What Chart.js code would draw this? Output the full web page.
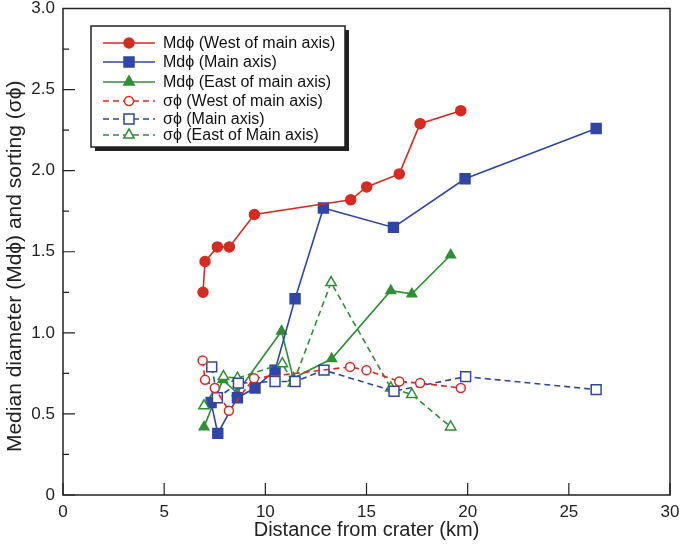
<!DOCTYPE html>
<html>
<head>
<meta charset="utf-8">
<script src="https://cdn.jsdelivr.net/npm/chart.js@4.4.1/dist/chart.umd.min.js"></script>
<style>
html, body { margin: 0; padding: 0; background: #fff; }
#wrap { width: 685px; height: 550px; }
</style>
</head>
<body>
<div id="wrap"><canvas id="c" width="685" height="550"></canvas></div>
<script>
// distance from crater (km) and values
var westMdX = [6.92, 7.02, 7.63, 8.22, 9.46, 14.22, 15.01, 16.62, 17.65, 19.66];
var westMdY = [1.25, 1.44, 1.53, 1.53, 1.73, 1.82, 1.90, 1.98, 2.29, 2.37];

var mainMdX = [7.32, 7.65, 8.62, 9.49, 10.48, 11.47, 12.87, 16.33, 19.87, 26.35];
var mainMdY = [0.57, 0.38, 0.60, 0.66, 0.77, 1.21, 1.77, 1.65, 1.95, 2.26];

var eastMdX = [6.97, 7.90, 8.60, 10.80, 11.38, 13.28, 16.20, 17.24, 19.16];
var eastMdY = [0.42, 0.71, 0.63, 1.01, 0.72, 0.84, 1.26, 1.24, 1.48];

var westSdX = [6.90, 7.02, 7.50, 8.20, 9.44, 14.19, 15.00, 16.62, 17.65, 19.66];
var westSdY = [0.83, 0.71, 0.66, 0.52, 0.72, 0.79, 0.77, 0.70, 0.69, 0.66];

var mainSdX = [7.35, 7.63, 8.67, 10.48, 11.47, 12.90, 16.36, 19.90, 26.35];
var mainSdY = [0.79, 0.60, 0.69, 0.70, 0.70, 0.77, 0.64, 0.73, 0.65];

var eastSdX = [6.97, 7.93, 8.62, 10.84, 11.38, 13.25, 16.20, 17.24, 19.16];
var eastSdY = [0.55, 0.73, 0.72, 0.81, 0.69, 1.31, 0.66, 0.62, 0.42];

var xTicks = [0, 5, 10, 15, 20, 25, 30];
var yTicks = [0, 0.5, 1.0, 1.5, 2.0, 2.5, 3.0];
var yMinorTicks = [0.25, 0.75, 1.25, 1.75, 2.25, 2.75];

var RED = '#d62b20', BLUE = '#2f45a8', GREEN = '#2f8f35';
var FONT = '"Liberation Sans", Arial, sans-serif';

function pts(xs, ys) {
	return xs.map(function(v, i) { return {x: v, y: ys[i]}; });
}

function series(label, xs, ys, color, style, radius, filled, dashed) {
	return {
		label: label,
		data: pts(xs, ys),
		showLine: true,
		borderColor: color,
		borderWidth: 1.6,
		borderDash: dashed ? [6, 4] : [],
		pointStyle: style,
		pointRadius: radius,
		pointBorderColor: color,
		pointBackgroundColor: filled ? color : '#fff',
		pointBorderWidth: 1.5,
		fill: false
	};
}

var datasets = [
	series('σϕ (West of main axis)', westSdX, westSdY, RED, 'circle', 4.5, false, true),
	series('σϕ (Main axis)', mainSdX, mainSdY, BLUE, 'rect', 7, false, true),
	series('σϕ (East of Main axis)', eastSdX, eastSdY, GREEN, 'triangle', 6, false, true),
	series('Mdϕ (West of main axis)', westMdX, westMdY, RED, 'circle', 5, true, false),
	series('Mdϕ (Main axis)', mainMdX, mainMdY, BLUE, 'rect', 7, true, false),
	series('Mdϕ (East of main axis)', eastMdX, eastMdY, GREEN, 'triangle', 5.5, true, false)
];

// legend rows in the order of the figure
var legendRows = [
	{text: 'Mdϕ (West of main axis)', color: RED, style: 'circle', filled: true, dashed: false},
	{text: 'Mdϕ (Main axis)', color: BLUE, style: 'rect', filled: true, dashed: false},
	{text: 'Mdϕ (East of main axis)', color: GREEN, style: 'triangle', filled: true, dashed: false},
	{text: 'σϕ (West of main axis)', color: RED, style: 'circle', filled: false, dashed: true},
	{text: 'σϕ (Main axis)', color: BLUE, style: 'rect', filled: false, dashed: true},
	{text: 'σϕ (East of Main axis)', color: GREEN, style: 'triangle', filled: false, dashed: true}
];

function marker(ctx, style, x, y, filled, color) {
	ctx.beginPath();
	if (style === 'circle') {
		ctx.arc(x, y, filled ? 5 : 4.5, 0, 2 * Math.PI);
	} else if (style === 'rect') {
		ctx.rect(x - 5, y - 5, 10, 10);
	} else {
		ctx.moveTo(x, y - 6);
		ctx.lineTo(x + 5.2, y + 3);
		ctx.lineTo(x - 5.2, y + 3);
		ctx.closePath();
	}
	ctx.fillStyle = filled ? color : '#fff';
	ctx.fill();
	ctx.lineWidth = 1.5;
	ctx.strokeStyle = color;
	ctx.setLineDash([]);
	ctx.stroke();
}

// box frame with inward ticks
var framePlugin = {
	id: 'frame',
	beforeDatasetsDraw: function(chart) {
		var ctx = chart.ctx, a = chart.chartArea;
		var x = chart.scales.x, y = chart.scales.y;
		ctx.save();
		ctx.strokeStyle = '#222';
		ctx.lineWidth = 1.5;
		ctx.strokeRect(a.left, a.top, a.right - a.left, a.bottom - a.top);
		ctx.lineWidth = 1.2;
		ctx.beginPath();
		xTicks.forEach(function(v) {
			var px = x.getPixelForValue(v);
			ctx.moveTo(px, a.bottom);
			ctx.lineTo(px, a.bottom - 12);
		});
		yTicks.forEach(function(v) {
			var py = y.getPixelForValue(v);
			ctx.moveTo(a.left, py);
			ctx.lineTo(a.left + 12, py);
		});
		yMinorTicks.forEach(function(v) {
			var py = y.getPixelForValue(v);
			ctx.moveTo(a.left, py);
			ctx.lineTo(a.left + 6, py);
		});
		ctx.stroke();
		ctx.restore();
	}
};

var legendPlugin = {
	id: 'boxLegend',
	afterDraw: function(chart) {
		var ctx = chart.ctx;
		var bx = 91, by = 26, bw = 254, bh = 121;
		var rowsY = [43, 62, 82, 101, 119, 135];
		ctx.save();
		// drop shadow
		ctx.fillStyle = '#222';
		ctx.fillRect(bx + 4, by + 4, bw, bh);
		ctx.fillStyle = '#fff';
		ctx.fillRect(bx, by, bw, bh);
		ctx.strokeStyle = '#222';
		ctx.lineWidth = 1.5;
		ctx.strokeRect(bx, by, bw, bh);
		ctx.font = '16px ' + FONT;
		ctx.textBaseline = 'middle';
		legendRows.forEach(function(r, i) {
			var ly = rowsY[i];
			ctx.beginPath();
			ctx.strokeStyle = r.color;
			ctx.lineWidth = 1.6;
			ctx.setLineDash(r.dashed ? [6, 4] : []);
			ctx.moveTo(103, ly);
			ctx.lineTo(155, ly);
			ctx.stroke();
			marker(ctx, r.style, 129, ly, r.filled, r.color);
			ctx.fillStyle = '#111';
			ctx.fillText(r.text, 163, ly + 1);
		});
		ctx.restore();
	}
};

new Chart(document.getElementById('c'), {
	type: 'scatter',
	data: {datasets: datasets},
	options: {
		responsive: false,
		animation: false,
		events: [],
		devicePixelRatio: 1,
		layout: {padding: {top: 8, right: 15, left: 0, bottom: 0}},
		plugins: {legend: {display: false}, tooltip: {enabled: false}},
		scales: {
			x: {
				type: 'linear', min: 0, max: 30,
				afterBuildTicks: function(s) { s.ticks = xTicks.map(function(v) { return {value: v}; }); },
				afterFit: function(s) { s.height = 55; s.paddingLeft = 0; s.paddingRight = 0; },
				grid: {display: false, drawTicks: false},
				border: {display: false},
				ticks: {padding: 7, color: '#222', font: {size: 17, family: FONT}, maxRotation: 0},
				title: {display: true, text: 'Distance from crater (km)', color: '#222',
					font: {size: 20, family: FONT}, padding: {top: 0, bottom: 8}}
			},
			y: {
				type: 'linear', min: 0, max: 3,
				afterBuildTicks: function(s) { s.ticks = yTicks.map(function(v) { return {value: v}; }); },
				afterFit: function(s) { s.width = 63; s.paddingTop = 0; s.paddingBottom = 0; },
				grid: {display: false, drawTicks: false},
				border: {display: false},
				ticks: {padding: 8, color: '#222', font: {size: 17, family: FONT},
					callback: function(v) { return v === 0 ? '0' : v.toFixed(1); }},
				title: {display: true, text: 'Median diameter (Mdϕ) and sorting (σϕ)\u00a0\u00a0\u00a0\u00a0\u00a0', color: '#222',
					font: {size: 21, family: FONT}, padding: {top: 3, bottom: 0}}
			}
		}
	},
	plugins: [framePlugin, legendPlugin]
});
</script>
</body>
</html>
